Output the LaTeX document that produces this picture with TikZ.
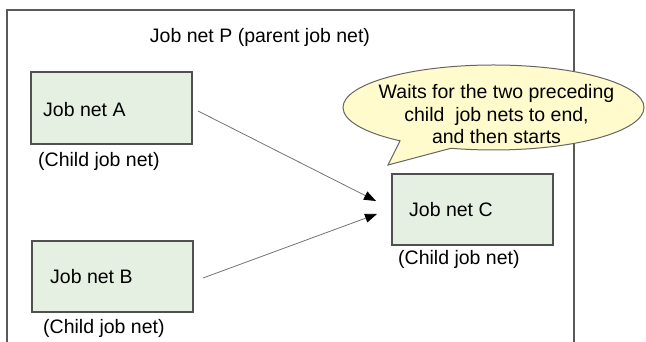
\documentclass[tikz,border=0pt]{standalone}
\usepackage{fontspec}
\setmainfont{Liberation Sans}
\usetikzlibrary{arrows.meta,shapes.callouts}

\definecolor{boxfill}{RGB}{230,240,226}
\definecolor{boxline}{RGB}{80,80,80}
\definecolor{bubblefill}{RGB}{255,251,204}

\begin{document}
\begin{tikzpicture}[
  jobbox/.style  = {draw=boxline, line width=2pt, fill=boxfill,
                    minimum width=161pt, minimum height=71pt, inner sep=0pt},
  jobtext/.style = {anchor=west, inner sep=0pt},
  child/.style   = {anchor=west, inner sep=0pt},
  frame/.style   = {draw=black!65, line width=2pt},
  link/.style    = {draw=black!55, line width=.8pt,
                    -{Triangle[length=12pt,width=9pt,fill=black,color=black]}},
  bubble/.style  = {ellipse callout, draw=black!60, line width=1pt,
                    fill=bubblefill, minimum width=301pt, minimum height=85pt,
                    inner sep=0pt, callout pointer arc=22}
]
\fontsize{19.5}{22.5}\selectfont
\useasboundingbox (0pt,0pt) rectangle (646pt,342pt);

% parent job net
\draw[frame] (7pt,-5pt) -- (7pt,332pt) -- (574pt,332pt) -- (574pt,-5pt);
\node (P) at (260pt,305pt) {Job net P (parent job net)};

% child job nets
\node[jobbox, minimum height=72pt] (A) at (111.5pt,234pt) {};
\node[jobbox] (B) at (112.5pt,65.5pt) {};
\node[jobbox] (C) at (472.5pt,132.5pt) {};

\node[jobtext] (Atext) at (43pt,232pt) {Job net A};
\node[jobtext] (Btext) at (50pt,65pt)  {Job net B};
\node[jobtext] (Ctext) at (409pt,132pt) {Job net C};

\node[child] (Achild) at (38pt,181pt)  {(Child job net)};
\node[child] (Bchild) at (43pt,14pt)   {(Child job net)};
\node[child] (Cchild) at (398pt,83pt)  {(Child job net)};

% preceding relations
\draw[link] ([xshift=5pt,yshift=-3pt]A.east) -- ([xshift=-15pt,yshift=8.5pt]C.west);
\draw[link] ([xshift=9pt,yshift=-1.5pt]B.east) -- ([xshift=-14pt,yshift=-4.5pt]C.west);

% note
\node[bubble, callout absolute pointer={(388pt,177pt)}] (note) at (493.5pt,234.5pt) {};
\node[align=center, inner sep=0pt] (notetext) at (496.5pt,227.5pt)
  {Waits for the two preceding\\child~ job nets to end,\\and then starts};

\end{tikzpicture}
\end{document}
